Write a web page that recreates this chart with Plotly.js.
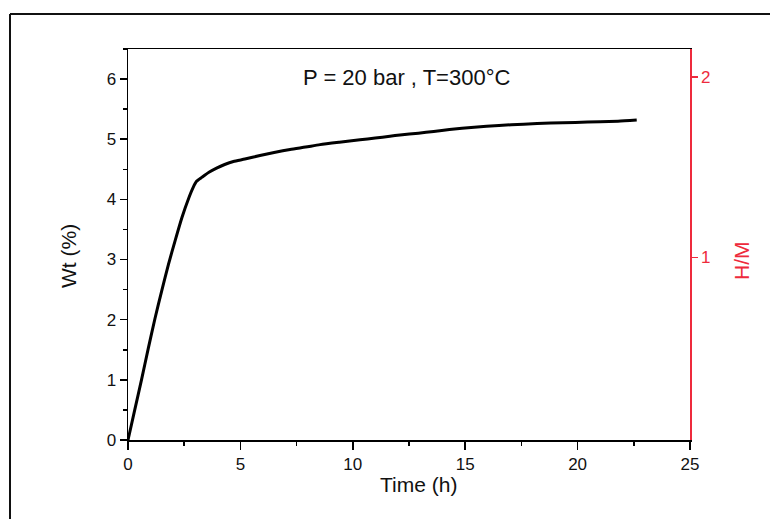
<!DOCTYPE html>
<html>
<head>
<meta charset="utf-8">
<script src="https://cdn.plot.ly/plotly-3.0.1.min.js"></script>
<style>html,body{margin:0;padding:0;background:#fff;}#chart{width:770px;height:519px;}</style>
</head>
<body>
<div id="chart"></div>
<script>
// Time (h)
const timeH = [0, 0.3, 0.6, 0.9, 1.2, 1.5, 1.8, 2.1, 2.4, 2.7, 2.9, 3.05, 3.3, 3.6, 3.94, 4.3, 4.69, 5.2, 5.87, 6.5, 7.21, 7.9, 8.54, 9.4, 10.32, 11.0, 11.65, 12.1, 12.92, 13.6, 14.3, 15.4, 16.5, 17.6, 18.8, 19.9, 21.0, 21.8, 22.63];
// Wt (%)
const wtPct = [0, 0.5, 1.0, 1.52, 2.02, 2.48, 2.92, 3.32, 3.7, 4.02, 4.2, 4.3, 4.37, 4.45, 4.52, 4.58, 4.63, 4.67, 4.73, 4.78, 4.83, 4.87, 4.91, 4.95, 4.99, 5.02, 5.05, 5.07, 5.1, 5.13, 5.16, 5.2, 5.23, 5.25, 5.27, 5.28, 5.29, 5.3, 5.32];

const xTicks = [0, 5, 10, 15, 20, 25];
const yTicks = [0, 1, 2, 3, 4, 5, 6];
const hmTicks = [1, 2];

const RED = '#ee2a3c';
const FONT = 'Liberation Sans, Arial, sans-serif';

const traces = [
  {x: timeH, y: wtPct, type: 'scatter', mode: 'lines',
   line: {color: '#000', width: 3, shape: 'spline', smoothing: 0.6}, showlegend: false, hoverinfo: 'skip'},
  {x: [], y: [], yaxis: 'y2', type: 'scatter', mode: 'lines', showlegend: false}
];

const L = 128, R = 690, T = 49, B = 440;
const pw = R - L, ph = B - T;
const px = v => (v - L) / pw;
const py = v => (B - v) / ph;

const layout = {
  width: 770, height: 519,
  margin: {l: L, r: 770 - R, t: T, b: 519 - B},
  paper_bgcolor: '#fff', plot_bgcolor: '#fff',
  font: {family: FONT, size: 17, color: '#111'},
  showlegend: false,
  xaxis: {
    range: [0, 25], tickvals: xTicks, ticktext: xTicks.map(String),
    showgrid: false, zeroline: false, showline: true, linecolor: '#000', linewidth: 1.5,
    mirror: true, ticks: 'outside', ticklen: 8, tickwidth: 1.5, tickcolor: '#000',
    minor: {dtick: 2.5, tick0: 0, ticks: 'outside', ticklen: 4, tickwidth: 1.5, tickcolor: '#000', showgrid: false},
    tickfont: {size: 17}
  },
  yaxis: {
    range: [0, 6.5], tickvals: yTicks, ticktext: yTicks.map(String),
    showgrid: false, zeroline: false, showline: true, linecolor: '#000', linewidth: 1.5,
    ticks: 'outside', ticklen: 7, tickwidth: 1.5, tickcolor: '#000',
    minor: {dtick: 0.5, tick0: 0, ticks: 'outside', ticklen: 4, tickwidth: 1.5, tickcolor: '#000', showgrid: false},
    tickfont: {size: 17}
  },
  yaxis2: {
    overlaying: 'y', side: 'right', range: [-0.015, 2.155],
    tickvals: hmTicks, ticktext: hmTicks.map(String),
    showgrid: false, zeroline: false, showline: true, linecolor: RED, linewidth: 1.5,
    ticks: 'outside', ticklen: 6, tickwidth: 1.2, tickcolor: RED,
    tickfont: {size: 17, color: RED}
  },
  annotations: [
    {xref: 'paper', yref: 'paper', x: px(406), y: py(77), text: 'P = 20 bar , T=300°C',
     showarrow: false, font: {size: 22, color: '#111'}, xanchor: 'center', yanchor: 'middle'},
    {xref: 'paper', yref: 'paper', x: px(418), y: py(484), text: 'Time (h)',
     showarrow: false, font: {size: 21, color: '#111'}, xanchor: 'center', yanchor: 'middle'},
    {xref: 'paper', yref: 'paper', x: px(68), y: py(256), text: 'Wt (%)', textangle: -90,
     showarrow: false, font: {size: 21, color: '#111'}, xanchor: 'center', yanchor: 'middle'},
    {xref: 'paper', yref: 'paper', x: px(741), y: py(261), text: 'H/M', textangle: -90,
     showarrow: false, font: {size: 21, color: RED}, xanchor: 'center', yanchor: 'middle'}
  ],
  shapes: [
    {type: 'line', xref: 'paper', yref: 'paper', x0: px(10), x1: px(775), y0: py(14), y1: py(14),
     line: {color: '#111', width: 2}},
    {type: 'line', xref: 'paper', yref: 'paper', x0: px(10), x1: px(10), y0: py(14), y1: py(525),
     line: {color: '#111', width: 2}}
  ]
};

Plotly.newPlot('chart', traces, layout, {displayModeBar: false, staticPlot: true});
</script>
</body>
</html>
